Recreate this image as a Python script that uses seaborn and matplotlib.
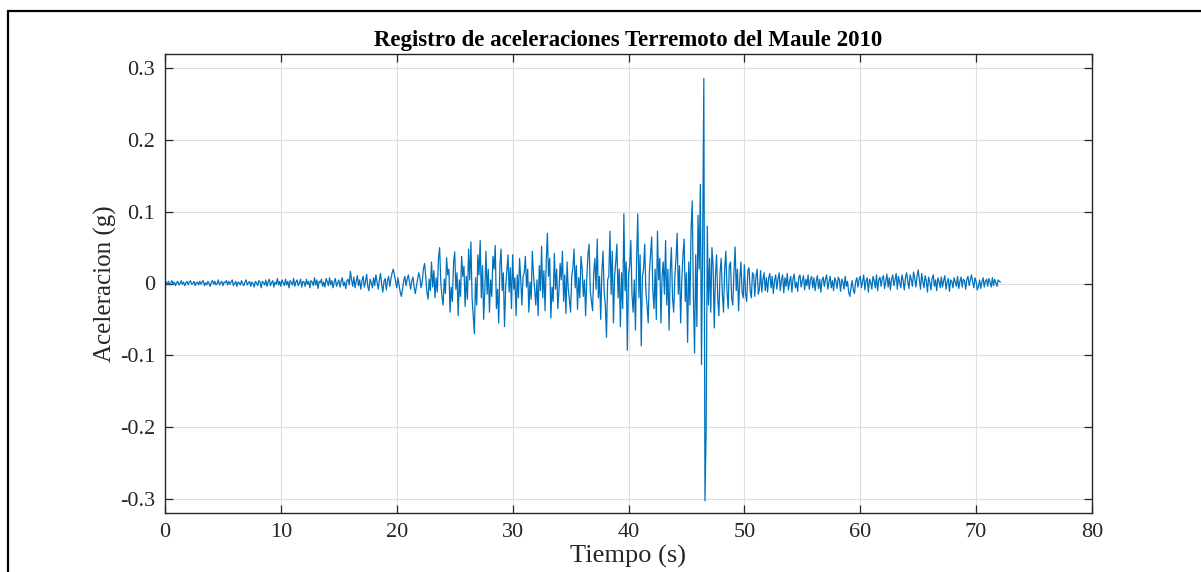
import numpy as np
import matplotlib
matplotlib.use("Agg")
import matplotlib.pyplot as plt
from matplotlib.patches import Rectangle
import seaborn as sns

# Acceleration record in milli-g, 10 samples per second (dt = 0.1 s)
acc_00_10 = [0, 2, -1, 3, -2, 1, 4, -1, 2, -3,
             1, 3, -2, 0, 4, -1, 2, -3, 1, 3,
             -2, 2, 4, -1, 0, 3, -3, 1, 2, -2,
             3, -1, 2, 4, -3, 1, -2, 3, 0, -4,
             2, 4, -1, 3, -2, 0, 5, -2, 1, 3,
             -3, 2, 1, 4, -2, 3, -1, 2, 5, -3,
             0, 3, -4, 2, 1, -2, 4, 0, -3, 2,
             5, -2, 1, 3, -4, 2, 0, -5, 3, 1,
             -3, 4, 2, -6, 3, 1, -2, 5, -4, 2,
             6, -3, 1, 4, -5, 2, -1, 7, -2, 3]
acc_10_20 = [-4, 5, 1, -3, 6, -2, 3, -6, 4, 1,
             -2, 7, -4, 2, 5, -3, 1, 6, -5, 3,
             2, -4, 6, -1, 3, -6, 4, 2, -3, 8,
             -2, 5, -7, 3, 1, 6, -4, 2, -5, 7,
             3, -3, 8, -2, 4, -6, 2, 7, -4, 1,
             5, -5, 3, 8, -3, 2, -7, 4, 6, -2,
             17, 5, -4, 9, -6, 3, 11, -3, 5, -8,
             4, 10, -5, 2, 13, -4, -10, 6, 1, -6,
             8, -3, 12, 2, -8, 5, 14, -2, -12, 3,
             7, -9, 4, 10, -4, 6, 15, 20, 12, 3]
acc_20_30 = [-6, 8, -2, -12, -18, -8, 4, 10, -3, 6,
             12, 2, -8, 4, 9, -5, -14, -4, 6, 15,
             8, -6, 3, 20, 28, 10, -12, -22, 6, -10,
             30, -5, 18, -20, 8, -12, 35, 50, 2, -18,
             -30, 6, -14, 36, 12, 20, -40, -5, -25, 28,
             44, -8, 15, -45, 5, -18, 38, 10, 24, -32,
             10, -22, 48, 5, 58, -20, -45, -70, 8, -30,
             40, 12, 60, -20, 25, -50, -10, 45, -15, 20,
             -40, 5, -18, 38, 20, 53, -35, -8, -55, 25,
             48, -10, 15, -60, -5, 18, 40, -12, 22, -35]
acc_30_40 = [40, -8, 8, -45, 12, -20, 35, 5, -30, 10,
             15, 38, -5, 20, -40, 2, -22, 45, 12, -8,
             -30, 5, -45, 25, -10, 52, -20, 18, -38, 30,
             70, 10, 35, -48, -5, -25, 42, -8, 20, -35,
             -10, 28, 5, 45, -25, 12, -42, 30, -8, -22,
             -40, 10, 22, 48, -6, 25, -36, 8, -20, 38,
             20, -18, 5, -45, 8, 40, 55, -10, -25, -38,
             15, 35, -8, 62, -20, 10, -50, 15, 45, -12,
             -30, -75, 5, 10, 73, -15, 45, -55, 10, 30,
             55, -20, 20, -60, 15, -35, 97, -10, 30, -93]
acc_40_50 = [10, 25, 60, -15, -40, 5, -65, 35, 97, -20,
             40, -87, 10, 20, 55, -12, -30, -55, 15, 40,
             65, -10, -35, 20, -50, 73, 5, 35, -55, 10,
             30, -15, 60, -30, 20, -65, 15, 50, -20, -40,
             10, 35, 70, -15, 25, -55, 5, 40, 62, -25,
             15, -82, 30, -30, 75, 115, -20, -97, 40, -60,
             95, 20, 138, -113, 60, 286, -303, -204, 80, -30,
             35, -40, 50, 25, -62, 10, 40, -20, -45, 15,
             35, -15, -40, 20, 45, -10, -35, 25, 30, -20,
             -30, 15, 51, -10, 20, -38, 5, 30, -12, -20]
acc_50_60 = [26, -15, -25, 18, 22, -10, -20, 15, 12, -18,
             10, 20, -15, -8, 18, -12, 6, 15, -10, 8,
             -12, 8, 14, -6, 10, -14, 4, 12, -8, 6,
             15, -10, 5, 12, -13, 8, -4, 14, -9, 3,
             10, -12, 7, 13, -6, 2, -11, 9, 12, -5,
             4, 11, -9, 6, -3, 12, -8, 5, 10, -6,
             8, -10, 3, 11, -7, 6, -12, 4, 9, -4,
             6, 12, -8, 2, 10, -6, 4, -10, 8, 3,
             -7, 9, 5, -11, 6, 2, -8, 10, -4, 3,
             -12, -18, -6, 4, -9, -14, 2, 8, -5, 6]
acc_60_72 = [10, -6, 3, 12, -9, 4, 8, -12, 6, 2,
             -8, 10, 4, -6, 12, -10, 5, 9, -4, 7,
             11, -7, 3, 13, -5, 8, -9, 6, 12, -3,
             5, 14, -8, 10, 2, -6, 12, 4, -9, 8,
             15, 3, -7, 12, 6, -4, 16, 8, -5, 10,
             19, 6, -8, 14, 3, -6, 11, 4, -12, 9,
             2, -9, 7, 12, -4, 5, -10, 8, 3, -6,
             9, -5, 4, 11, -8, 2, 7, -11, 5, 3,
             -6, 8, 2, -4, 10, -7, 3, 9, -5, 6,
             4, -8, 6, 10, -3, 5, 12, 2, -6, 8,
             3, -9, -4, 5, -7, 2, 8, -5, 3, 6,
             -4, 7, 2, -5, 8, -3, 6, 1, -4, 5,
             3, 2]

dt = 0.1
x_ticks = [0, 10, 20, 30, 40, 50, 60, 70, 80]
y_ticks = [-0.3, -0.2, -0.1, 0, 0.1, 0.2, 0.3]
y_ticklabels = ["-0.3", "-0.2", "-0.1", "0", "0.1", "0.2", "0.3"]
title = "Registro de aceleraciones Terremoto del Maule 2010"
xlabel = "Tiempo (s)"
ylabel = "Aceleracion (g)"

acc = np.array(acc_00_10 + acc_10_20 + acc_20_30 + acc_30_40 +
               acc_40_50 + acc_50_60 + acc_60_72, dtype=float) / 1000.0
t = np.arange(len(acc)) * dt

sns.set_theme(style="whitegrid")
plt.rcParams["font.family"] = ["Liberation Serif", "DejaVu Serif"]
plt.rcParams["axes.unicode_minus"] = False

W, H = 1201, 572
fig = plt.figure(figsize=(W / 100, H / 100), dpi=100)
fig.patch.set_facecolor("white")
ax = fig.add_axes([165 / W, 1 - 513 / H, (1092 - 165) / W, (513 - 54) / H])
ax.set_facecolor("white")

sns.lineplot(x=t, y=acc, ax=ax, color=(0, 0.447, 0.741), linewidth=0.9,
             estimator=None, sort=False)

ax.set_xlim(0, 80)
ax.set_ylim(-0.32, 0.32)
ax.set_xticks(x_ticks)
ax.set_xticklabels([str(v) for v in x_ticks])
ax.set_yticks(y_ticks)
ax.set_yticklabels(y_ticklabels)

ax.grid(True, color="#dedede", linewidth=0.8)
for s in ax.spines.values():
    s.set_visible(True)
    s.set_color("#262626")
    s.set_linewidth(1.0)

ax.tick_params(axis="both", which="major", direction="in", length=6, width=0.9,
               color="#262626", labelcolor="#262626", labelsize=16,
               top=True, right=True, bottom=True, left=True)
ax.tick_params(axis="x", pad=7)
ax.tick_params(axis="y", pad=7)

ax.set_title(title, fontsize=16.5, fontweight="bold", color="black", pad=6)
ax.set_xlabel(xlabel, fontsize=19, color="#262626", labelpad=2)
ax.set_ylabel(ylabel, fontsize=18, color="#262626", labelpad=2)

# figure frame
fig.patches.append(Rectangle((7.5 / W, -0.05), 1.2, 0.05 + 1 - 11 / H,
                             transform=fig.transFigure, fill=False,
                             edgecolor="black", linewidth=1.6))

fig.savefig("out.png", dpi=100, facecolor="white")
